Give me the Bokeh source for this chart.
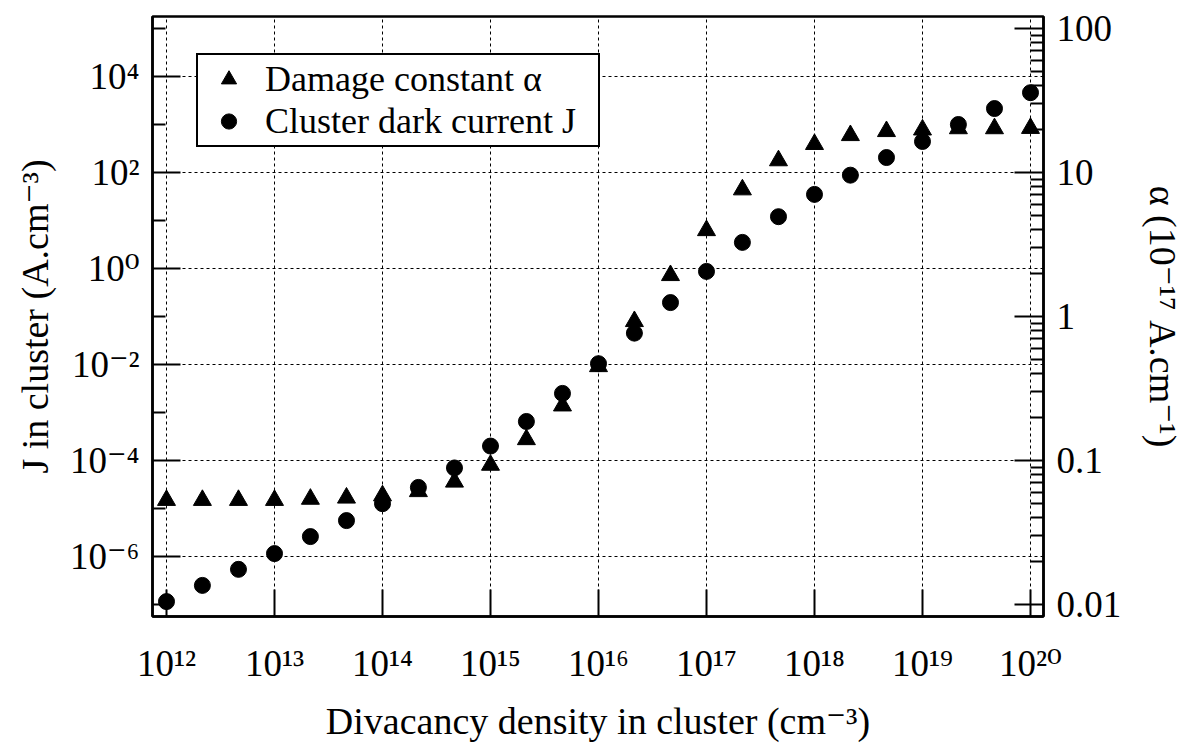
from bokeh.plotting import figure
from bokeh.models import (Range1d, LogAxis, LogScale, FixedTicker, Legend,
                          LegendItem, CustomJSTickFormatter)
from bokeh.embed import file_html
from bokeh.resources import INLINE

# ---- data -------------------------------------------------------------
# divacancy density in cluster (cm^-3), three points per decade
density = [1.0e12, 2.15e12, 4.64e12, 1.0e13, 2.15e13, 4.64e13,
           1.0e14, 2.15e14, 4.64e14, 1.0e15, 2.15e15, 4.64e15,
           1.0e16, 2.15e16, 4.64e16, 1.0e17, 2.15e17, 4.64e17,
           1.0e18, 2.15e18, 4.64e18, 1.0e19, 2.15e19, 4.64e19, 1.0e20]

# cluster dark current J (A.cm^-3), left axis
dark_current_J = [1.15e-7, 2.5e-7, 5.4e-7, 1.15e-6, 2.6e-6, 5.6e-6,
                  1.26e-5, 2.75e-5, 7.0e-5, 2.0e-4, 6.5e-4, 2.5e-3,
                  1.04e-2, 4.5e-2, 0.195, 0.87, 3.5, 12.0,
                  35.0, 88.0, 205.0, 443.0, 1000.0, 2150.0, 4600.0]

# damage constant alpha (1e-17 A.cm^-1), right axis
damage_alpha = [0.053, 0.053, 0.053, 0.053, 0.054, 0.055,
                0.057, 0.061, 0.071, 0.093, 0.140, 0.240,
                0.45, 0.925, 1.93, 3.96, 7.6, 12.1,
                15.7, 18.1, 19.3, 19.8, 20.2, 20.2, 20.3]

x_ticks = [1e12, 1e13, 1e14, 1e15, 1e16, 1e17, 1e18, 1e19, 1e20]
x_tick_labels = ["10\u00b9\u00b2", "10\u00b9\u00b3", "10\u00b9\u2074", "10\u00b9\u2075",
                 "10\u00b9\u2076", "10\u00b9\u2077", "10\u00b9\u2078", "10\u00b9\u2079",
                 "10\u00b2\u2070"]

j_ticks = [1e-6, 1e-4, 1e-2, 1e0, 1e2, 1e4]
j_tick_labels = ["10\u207b\u2076", "10\u207b\u2074", "10\u207b\u00b2", "10\u2070",
                 "10\u00b2", "10\u2074"]
j_minor_ticks = [1e-7, 1e-5, 1e-3, 1e-1, 1e1, 1e3, 1e5]

alpha_ticks = [0.01, 0.1, 1.0, 10.0, 100.0]
alpha_tick_labels = ["0.01", "0.1", "1", "10", "100"]
alpha_minor_ticks = [m * d for d in (0.01, 0.1, 1.0, 10.0) for m in range(2, 10)]

x_title = "Divacancy density in cluster (cm\u207b\u00b3)"
j_title = "J in cluster (A.cm\u207b\u00b3)"
alpha_title = "\u03b1 (10\u207b\u00b9\u2077 A.cm\u207b\u00b9)"

# ---- layout -----------------------------------------------------------
W, H = 1187, 752
FRAME_LEFT, FRAME_RIGHT, FRAME_TOP, FRAME_BOTTOM = 152, 1043, 16, 616
FONT = "Liberation Serif, DejaVu Serif, serif"

p = figure(width=W, height=H, x_axis_type="log", y_axis_type="log",
           x_range=Range1d(10 ** 11.8704, 10 ** 20.1204),
           y_range=Range1d(10 ** -7.25, 10 ** 5.25),
           min_border_left=FRAME_LEFT, min_border_right=W - FRAME_RIGHT,
           min_border_top=FRAME_TOP, min_border_bottom=H - FRAME_BOTTOM,
           output_backend="svg", toolbar_location=None)
p.extra_y_ranges = {"alpha": Range1d(10 ** -2.0833, 10 ** 2.0833)}
p.extra_y_scales = {"alpha": LogScale()}

p.background_fill_color = "white"
p.border_fill_color = "white"
p.outline_line_color = "black"
p.outline_line_width = 2.5


def tick_text(values, labels):
    return CustomJSTickFormatter(args=dict(tick_values=values, tick_labels=labels), code="""
        for (let i = 0; i < tick_values.length; i++) {
            const v = tick_values[i];
            if (Math.abs(tick - v) <= 1e-9 * Math.abs(v)) return tick_labels[i];
        }
        return '';
    """)


x_ticker = FixedTicker(ticks=x_ticks, minor_ticks=[])
j_ticker = FixedTicker(ticks=j_ticks, minor_ticks=j_minor_ticks)
alpha_ticker = FixedTicker(ticks=alpha_ticks, minor_ticks=alpha_minor_ticks)

xaxis = p.below[0]
xaxis.ticker = x_ticker
xaxis.formatter = tick_text(x_ticks, x_tick_labels)
xaxis.major_tick_in, xaxis.major_tick_out = 27, 0
xaxis.minor_tick_in, xaxis.minor_tick_out = 0, 0
xaxis.major_label_standoff = 26
xaxis.axis_label = x_title
xaxis.axis_label_standoff = 13

yaxis = p.left[0]
yaxis.ticker = j_ticker
yaxis.formatter = tick_text(j_ticks, j_tick_labels)
yaxis.major_tick_in, yaxis.major_tick_out = 28, 0
yaxis.minor_tick_in, yaxis.minor_tick_out = 13, 0
yaxis.major_label_standoff = 13
yaxis.axis_label = j_title
yaxis.axis_label_standoff = 11

raxis = LogAxis(y_range_name="alpha", ticker=alpha_ticker,
                formatter=tick_text(alpha_ticks, alpha_tick_labels))
raxis.major_tick_in, raxis.major_tick_out = 29, 0
raxis.minor_tick_in, raxis.minor_tick_out = 13, 0
raxis.major_label_standoff = 13
raxis.axis_label = alpha_title
raxis.axis_label_standoff = 18
p.add_layout(raxis, "right")

for ax in (xaxis, yaxis, raxis):
    ax.axis_line_color = "black"
    ax.axis_line_width = 2.5
    ax.major_tick_line_color = "black"
    ax.major_tick_line_width = 2
    ax.minor_tick_line_color = "black"
    ax.minor_tick_line_width = 2
    ax.major_label_text_font = FONT
    ax.major_label_text_font_size = "37px"
    ax.major_label_text_color = "black"
    ax.axis_label_text_font = FONT
    ax.axis_label_text_font_size = "38px"
    ax.axis_label_text_font_style = "normal"
    ax.axis_label_text_color = "black"

p.xgrid.ticker = x_ticker
p.ygrid.ticker = j_ticker
for g in (p.xgrid, p.ygrid):
    g.grid_line_color = "black"
    g.grid_line_width = 1
    g.grid_line_dash = "3 3"

# ---- data marks ---------------------------------------------------------
r_alpha = p.scatter(density, damage_alpha, marker="triangle", size=18,
                    color="black", y_range_name="alpha")
r_j = p.scatter(density, dark_current_J, marker="circle", size=16, color="black")

# ---- legend -------------------------------------------------------------
# each entry row is as tall as the 36px label text (about 44px)
LEG_TOP, LEG_PAD, LEG_ROW = 53, 3, 44
legend = Legend(
    items=[LegendItem(label="Damage constant \u03b1", renderers=[r_alpha]),
           LegendItem(label="Cluster dark current J", renderers=[r_j])],
    location=(196 - FRAME_LEFT,
              FRAME_BOTTOM - LEG_TOP - (2 * LEG_PAD + 2 * LEG_ROW)),
    padding=LEG_PAD, spacing=0, margin=0,
    glyph_width=55, glyph_height=38, label_height=38,
    label_width=330, label_standoff=9,
    label_text_font=FONT, label_text_font_size="36px", label_text_color="black",
    border_line_color="black", border_line_width=2, border_line_alpha=1.0,
    background_fill_color="white", background_fill_alpha=1.0,
)
p.add_layout(legend, "center")

open("out.html", "w").write(file_html(p, INLINE))
